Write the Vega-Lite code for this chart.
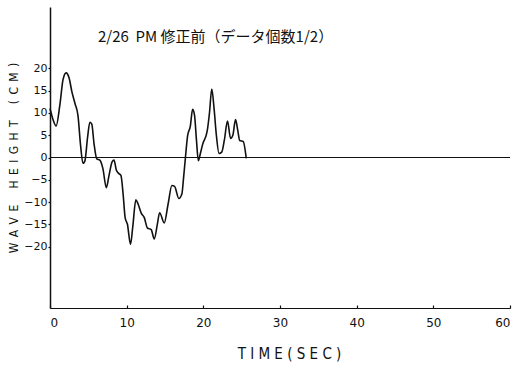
{
  "$schema": "https://vega.github.io/schema/vega-lite/v6.json",
  "autosize": "none",
  "width": 460,
  "height": 301,
  "padding": {"left": 50, "top": 7, "right": 11, "bottom": 60},
  "background": "white",
  "title": {
    "text": "2/26\u00a0\u00a0PM\u00a0修正前（データ個数1/2）",
    "anchor": "start",
    "frame": "group",
    "dx": 48,
    "dy": 42,
    "font": "Noto Sans CJK JP",
    "fontSize": 15,
    "fontWeight": "normal",
    "color": "#111"
  },
  "config": {
    "view": {"stroke": null},
    "axis": {
      "domainColor": "#111",
      "tickColor": "#111",
      "labelColor": "#111",
      "titleColor": "#111",
      "grid": false,
      "labelFont": "DejaVu Sans",
      "labelFontSize": 12,
      "titleFont": "DejaVu Sans Condensed",
      "titleFontWeight": "normal"
    }
  },
  "data": {
    "values": [
      {"t": 0, "h": 11},
      {"t": 0.4, "h": 8.5},
      {"t": 0.8, "h": 7.1},
      {"t": 1.3, "h": 12},
      {"t": 1.7, "h": 17.5},
      {"t": 2.1, "h": 19},
      {"t": 2.5, "h": 17.8},
      {"t": 2.85, "h": 14.8},
      {"t": 3.25, "h": 12.2},
      {"t": 3.65, "h": 9.4},
      {"t": 4.0, "h": 2.5},
      {"t": 4.3, "h": -1.3},
      {"t": 4.55, "h": -0.8},
      {"t": 4.9, "h": 4.5},
      {"t": 5.2, "h": 7.9},
      {"t": 5.45, "h": 7.5},
      {"t": 5.75, "h": 3},
      {"t": 6.1, "h": -0.3},
      {"t": 6.5, "h": -0.6},
      {"t": 6.9, "h": -2.5},
      {"t": 7.35, "h": -6.8},
      {"t": 7.7, "h": -4},
      {"t": 8.1, "h": -1.0},
      {"t": 8.35, "h": -0.6},
      {"t": 8.65, "h": -2.8},
      {"t": 8.9, "h": -3.5},
      {"t": 9.25, "h": -4.0},
      {"t": 9.55, "h": -8.5},
      {"t": 9.8, "h": -13.5},
      {"t": 10.1, "h": -15},
      {"t": 10.5, "h": -19.5},
      {"t": 10.8, "h": -15.5},
      {"t": 11.2, "h": -9.5},
      {"t": 11.5, "h": -10.5},
      {"t": 11.9, "h": -12.5},
      {"t": 12.3, "h": -13.5},
      {"t": 12.7, "h": -15.8},
      {"t": 13.2, "h": -16.2},
      {"t": 13.6, "h": -18.3},
      {"t": 14.0, "h": -15},
      {"t": 14.3, "h": -12.4},
      {"t": 14.9, "h": -14.7},
      {"t": 15.4, "h": -10.5},
      {"t": 15.9, "h": -6.3},
      {"t": 16.25, "h": -6.5},
      {"t": 16.8, "h": -9.2},
      {"t": 17.2, "h": -8.2},
      {"t": 17.45, "h": -4},
      {"t": 17.65, "h": -0.3},
      {"t": 17.95, "h": 4.9},
      {"t": 18.3, "h": 7},
      {"t": 18.6, "h": 10.8},
      {"t": 18.85, "h": 9.5},
      {"t": 19.1, "h": 4},
      {"t": 19.35, "h": -0.7},
      {"t": 19.6, "h": 0.8},
      {"t": 19.9, "h": 2.9},
      {"t": 20.5, "h": 5.9},
      {"t": 20.8, "h": 10},
      {"t": 21.1, "h": 15.4},
      {"t": 21.4, "h": 11},
      {"t": 21.7, "h": 5},
      {"t": 22.05, "h": 0.9},
      {"t": 22.4, "h": 1.2},
      {"t": 22.75, "h": 4},
      {"t": 23.15, "h": 8.2},
      {"t": 23.55, "h": 4.3},
      {"t": 23.85, "h": 5},
      {"t": 24.2, "h": 8.5},
      {"t": 24.5, "h": 6},
      {"t": 24.75, "h": 3.8},
      {"t": 25.2, "h": 3.6},
      {"t": 25.6, "h": -0.2}
    ]
  },
  "layer": [
    {
      "mark": {"type": "line", "color": "#111", "strokeWidth": 1.6, "interpolate": "monotone"},
      "encoding": {
        "x": {
          "field": "t",
          "type": "quantitative",
          "scale": {"domain": [0, 60], "nice": false, "zero": false},
          "axis": {
            "values": [0, 10, 20, 30, 40, 50, 60],
            "labelOverlap": false,
            "title": "T I M E ( S E C )",
            "titleFontSize": 15,
            "titlePadding": 18,
            "titleX": 239,
            "titleAlign": "center",
            "tickSize": -3,
            "labelPadding": 12,
            "domainWidth": 1.2,
            "tickWidth": 1.2
          }
        },
        "y": {
          "field": "h",
          "type": "quantitative",
          "scale": {"domain": [-33.8, 33.8], "nice": false},
          "axis": {
            "values": [-20, -15, -10, -5, 0, 5, 10, 15, 20],
            "labelOverlap": false,
            "labelFontSize": 11,
            "title": "W\u2002A\u2002V\u2002E\u2003\u2002H\u2002E\u2002I\u2002G\u2002H\u2002T\u2003\u2002(\u2002C\u2002M\u2002)",
            "titleFontSize": 12,
            "titlePadding": 3,
            "tickSize": 2,
            "labelPadding": 1,
            "domainWidth": 1.5,
            "tickWidth": 1.2
          }
        }
      }
    },
    {
      "mark": {"type": "rule", "color": "#111", "strokeWidth": 1.1},
      "encoding": {
        "y": {
          "datum": 0,
          "type": "quantitative",
          "axis": {
            "values": [-20, -15, -10, -5, 0, 5, 10, 15, 20],
            "labelOverlap": false,
            "labelFontSize": 11,
            "title": "W\u2002A\u2002V\u2002E\u2003\u2002H\u2002E\u2002I\u2002G\u2002H\u2002T\u2003\u2002(\u2002C\u2002M\u2002)",
            "titleFontSize": 12,
            "titlePadding": 3,
            "tickSize": 2,
            "labelPadding": 1,
            "domainWidth": 1.5,
            "tickWidth": 1.2
          }
        }
      }
    }
  ]
}
